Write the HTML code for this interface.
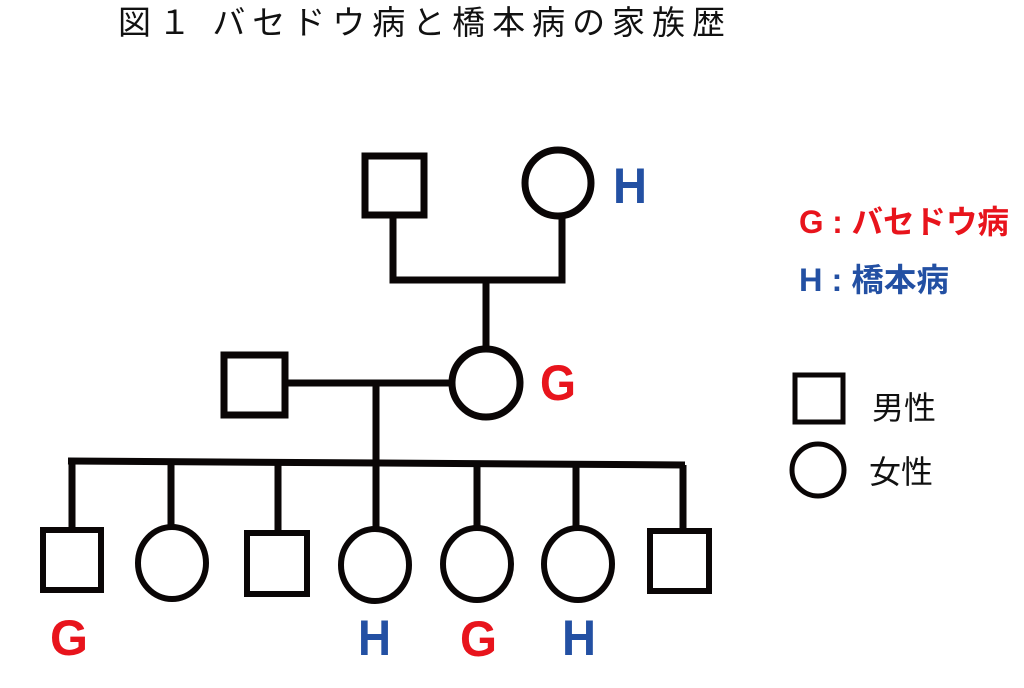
<!DOCTYPE html>
<html><head><meta charset="utf-8"><style>
html,body{margin:0;padding:0;background:#fff;}
svg{display:block;}
text{font-family:"Liberation Sans","Noto Sans CJK JP",sans-serif;}
</style></head><body>
<svg width="1024" height="688" viewBox="0 0 1024 688" xmlns="http://www.w3.org/2000/svg">
<text x="118" y="34" font-size="33" fill="#111" textLength="607" lengthAdjust="spacing" style="font-family:'Noto Sans CJK JP',sans-serif;font-weight:400">図１ バセドウ病と橋本病の家族歴</text>
<g fill="none" stroke="#0a0606" stroke-width="7">
<rect x="365" y="156" width="59" height="59"/>
<circle cx="558" cy="183" r="33"/>
<polyline points="393,215 393,280 562,280 562,216"/>
<line x1="486" y1="280" x2="486" y2="350"/>
<circle cx="486" cy="383" r="34"/>
<rect x="224" y="355" width="61" height="60"/>
<line x1="285" y1="383" x2="452" y2="383"/>
<line x1="376" y1="383" x2="376" y2="530"/>
<line x1="68" y1="461" x2="685" y2="465"/>
<line x1="72" y1="461" x2="72" y2="528"/>
<line x1="171" y1="462" x2="171" y2="528"/>
<line x1="278" y1="462" x2="278" y2="530"/>
<line x1="477" y1="463" x2="477" y2="528"/>
<line x1="576" y1="464" x2="576" y2="528"/>
<line x1="683" y1="465" x2="683" y2="530"/>
<rect x="43" y="530" width="58" height="60" stroke-width="6"/>
<ellipse cx="172" cy="563" rx="34" ry="36" stroke-width="6"/>
<rect x="247" y="533" width="60" height="61" stroke-width="6"/>
<ellipse cx="375" cy="565" rx="34" ry="36" stroke-width="6"/>
<ellipse cx="477" cy="564" rx="34" ry="36" stroke-width="6"/>
<ellipse cx="578" cy="564" rx="34" ry="36" stroke-width="6"/>
<rect x="650" y="531" width="59" height="60" stroke-width="6"/>
<rect x="795" y="375" width="48" height="47" stroke-width="5"/>
<circle cx="818" cy="470" r="26" stroke-width="5"/>
</g>
<g font-weight="bold" font-size="50">
<text x="613" y="203" fill="#2350a3" textLength="34" lengthAdjust="spacingAndGlyphs">H</text>
<text x="540" y="400" fill="#e8141c" textLength="36" lengthAdjust="spacingAndGlyphs">G</text>
<text x="50" y="655" fill="#e8141c" textLength="38" lengthAdjust="spacingAndGlyphs">G</text>
<text x="358" y="655" fill="#2350a3" textLength="33" lengthAdjust="spacingAndGlyphs">H</text>
<text x="460" y="656" fill="#e8141c" textLength="37" lengthAdjust="spacingAndGlyphs">G</text>
<text x="562" y="655" fill="#2350a3" textLength="34" lengthAdjust="spacingAndGlyphs">H</text>
</g>
<text x="799" y="233" font-size="32" font-weight="bold" fill="#e8141c" textLength="210" lengthAdjust="spacingAndGlyphs">G : バセドウ病</text>
<text x="799" y="291" font-size="32" font-weight="bold" fill="#2350a3" textLength="150" lengthAdjust="spacingAndGlyphs">H : 橋本病</text>
<text x="872" y="419" font-size="32" fill="#111">男性</text>
<text x="869" y="483" font-size="32" fill="#111">女性</text>
</svg>
</body></html>
